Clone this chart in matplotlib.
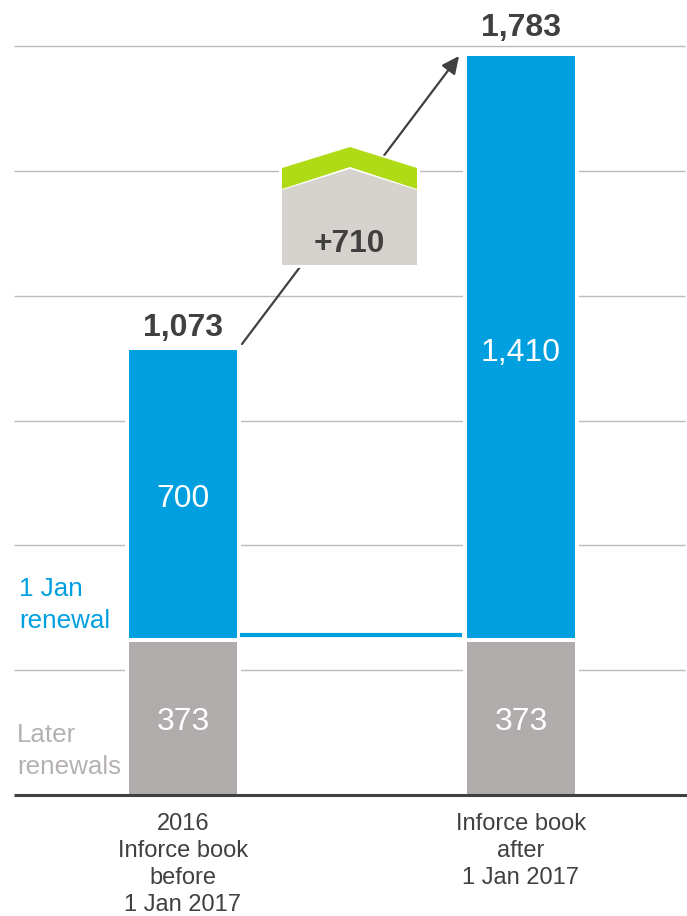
import matplotlib
matplotlib.use("Agg")
import matplotlib.pyplot as plt
from matplotlib.patches import Polygon
from matplotlib.transforms import Affine2D

plt.rcParams['font.family'] = ['Liberation Sans', 'DejaVu Sans']

# values
categories = ["2016\nInforce book\nbefore\n1 Jan 2017", "Inforce book\nafter\n1 Jan 2017"]
later_renewals = [373, 373]
jan_renewal = [700, 1410]
totals = ["1,073", "1,783"]
later_labels = ["373", "373"]
jan_labels = ["700", "1,410"]
grid_values = [301, 602, 903, 1204, 1504, 1806]
increase_label = "+710"
connector_value = 386

BLUE = "#009FE0"
GREY = "#B1ACAC"
GREEN = "#AEDA16"
HOUSE = "#D6D2CE"
DARK = "#404040"
GRID = "#BEBABA"

fig = plt.figure(figsize=(6.87, 9.16), dpi=100)
ax = fig.add_axes([0, 0, 1, 1])
ax.axis("off")

# one category step is 338 px, one unit is 0.4147 px
ax.set_xlim(-183 / 338, (687 - 183) / 338)
ax.set_ylim(-(916 - 795) / 0.4147, 795 / 0.4147)

# reference frame in picture pixels, for the callout and side labels
px = Affine2D().scale(1 / 687, -1 / 916).translate(0, 1) + fig.transFigure

x = [0, 1]
bar_w = 108 / 338
totals_num = [a + b for a, b in zip(later_renewals, jan_renewal)]

x_left = -169 / 338
x_right = 502 / 338
ax.hlines(grid_values, x_left, x_right, color=GRID, lw=1.0, zorder=1)

# white gaps in the grid around the bars
ax.bar(x, totals_num, width=(108 + 8) / 338, color="white", zorder=2)
ax.bar(x, later_renewals, width=bar_w, color=GREY, zorder=3)
ax.bar(x, jan_renewal, bottom=later_renewals, width=bar_w, color=BLUE, zorder=3)
# white split between the two segments
ax.bar(x, [10, 10], bottom=[v - 5 for v in later_renewals], width=bar_w, color="white", zorder=4)

# flat line between the bars
ax.hlines(connector_value, 57 / 338, 279 / 338, color=BLUE, lw=3, zorder=3)

# baseline
ax.hlines(0, x_left, x_right + 2 / 338, color=DARK, lw=2.2, zorder=4)

total_gap = [34, 48]
label_y = [[177, 177], [714, 1067]]
for i in x:
    ax.text(i, label_y[0][i], later_labels[i], color="white", fontsize=23,
            ha="center", va="center", zorder=5)
    ax.text(i, label_y[1][i], jan_labels[i], color="white", fontsize=23,
            ha="center", va="center", zorder=5)
    ax.text(i, totals_num[i] + total_gap[i], totals[i], color=DARK, fontsize=23,
            fontweight="bold", ha="center", va="baseline", zorder=5)
    ax.text(i, -44, categories[i], color=DARK, fontsize=17, ha="center", va="top",
            linespacing=1.29, zorder=5)

# arrow runs behind the callout
ax.annotate("", xy=(459, 56), xytext=(242, 344), xycoords=px, textcoords=px,
            arrowprops=dict(arrowstyle="-|>,head_length=1.05,head_width=0.5", color=DARK,
                            lw=1.6, shrinkA=0, shrinkB=0), zorder=6)

# callout shape
ax.add_patch(Polygon([(279, 268), (279, 168), (350, 144), (420, 168), (420, 268)], closed=True,
                     facecolor="white", edgecolor="none", transform=px, zorder=7))
ax.add_patch(Polygon([(282, 168), (350, 147), (417, 168), (417, 189), (350, 167), (282, 189)],
                     closed=True, facecolor=GREEN, edgecolor="none", transform=px, zorder=8))
ax.add_patch(Polygon([(282, 190), (350, 169), (417, 190), (417, 265), (282, 265)],
                     closed=True, facecolor=HOUSE, edgecolor="none", transform=px, zorder=8))
ax.text(349.5, 244, increase_label, transform=px, color=DARK, fontsize=22.8, fontweight="bold",
        ha="center", va="center", zorder=9)

# side labels
ax.text(19, 605, "1 Jan\nrenewal", transform=px, color=BLUE, fontsize=18.7, ha="left",
        va="center", linespacing=1.37, zorder=5)
ax.text(17, 751, "Later\nrenewals", transform=px, color="#B5B1B1", fontsize=18.7, ha="left",
        va="center", linespacing=1.37, zorder=5)

fig.savefig("out.png", dpi=100, facecolor="white")
